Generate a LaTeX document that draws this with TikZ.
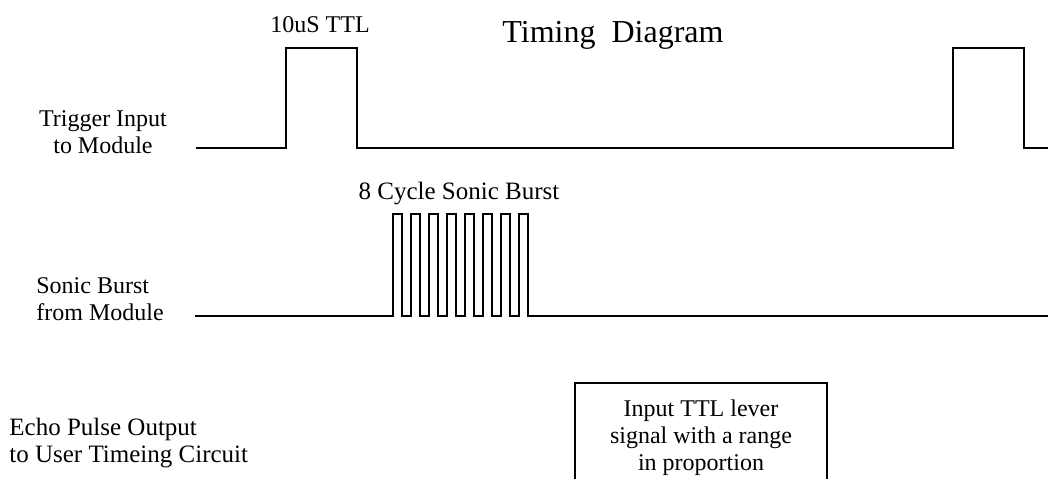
\documentclass[tikz,border=0pt]{standalone}
\usepackage{fontspec}
\setmainfont{Liberation Serif}
\usepackage{tikz}

\tikzset{
	wave/.style={line width=0.9pt, line join=miter},
	lbl/.style={font=\fontsize{12}{13.3}\selectfont, inner sep=0pt},
	biglbl/.style={font=\fontsize{12.5}{13.3}\selectfont, inner sep=0pt},
}

\begin{document}
\begin{tikzpicture}[x=0.5pt,y=-0.5pt]
	\useasboundingbox (0,0) rectangle (1048,479);

	\node[lbl, font=\fontsize{16}{18}\selectfont, anchor=base] (title) at (613,42) {Timing\ \ Diagram};
	\node[lbl, anchor=base] (ttl) at (320,32) {10uS TTL};
	\node[biglbl, anchor=base] (burst) at (459,199) {8 Cycle Sonic Burst};

	\node[lbl, align=center, anchor=base] (trig) at (103,153) {Trigger Input\\to Module};
	\node[lbl, align=left, anchor=base west] (sonic) at (36,320) {Sonic Burst\\from Module};
	\node[biglbl, align=left, anchor=base west] (echo) at (9,462) {Echo Pulse Output\\to User Timeing Circuit};

	\draw[wave] (196,148) -- (286,148) -- (286,48) -- (357,48) -- (357,148) -- (953,148) -- (953,48) -- (1024,48) -- (1024,148) -- (1048,148);
	\draw[wave] (195,316) -- (393,316) \foreach \k in {0,...,7} { -- ++(0,-102) -- ++(9,0) -- ++(0,102) -- ++(9,0) } -- (1048,316);

	\draw[wave] (575,479) -- (575,383) -- (827,383) -- (827,479);
	\node[lbl, align=center, anchor=base] (range) at (701,470) {Input TTL lever\\signal with a range\\in proportion};
\end{tikzpicture}
\end{document}
